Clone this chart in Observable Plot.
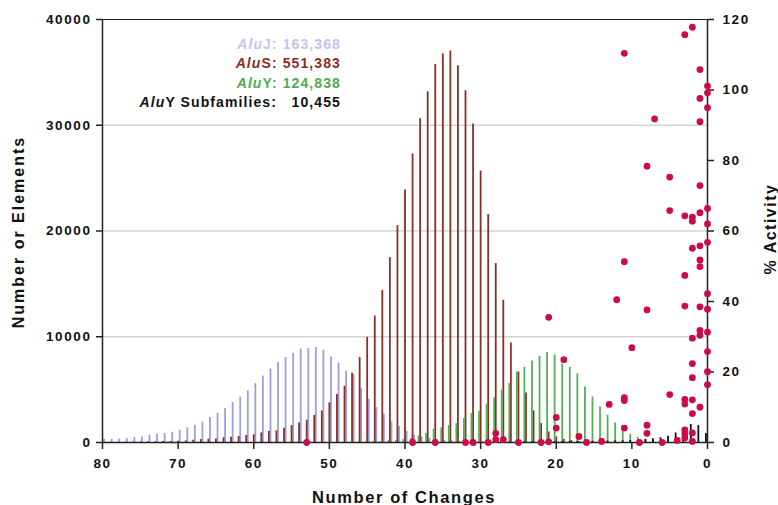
<!DOCTYPE html>
<html><head><meta charset="utf-8">
<script src="https://cdn.jsdelivr.net/npm/d3@7"></script>
<script src="https://cdn.jsdelivr.net/npm/@observablehq/plot@0.6"></script>
<style>body{margin:0;background:#fff} svg{display:block}</style>
</head><body><div id="chart"></div>
<script>
// Number of changes (categories), 0..80
const changes = [0,1,2,3,4,5,6,7,8,9,10,11,12,13,14,15,16,17,18,19,20,21,22,23,24,25,26,27,28,29,30,31,32,33,34,35,36,37,38,39,40,41,42,43,44,45,46,47,48,49,50,51,52,53,54,55,56,57,58,59,60,61,62,63,64,65,66,67,68,69,70,71,72,73,74,75,76,77,78,79,80];
// AluJ element counts per number of changes
const aluJ = [0,0,0,0,0,0,0,0,0,0,0,0,0,0,0,10,10,10,10,10,20,20,20,20,20,20,20,20,30,40,50,60,80,100,150,200,280,400,530,690,1070,1540,1950,2660,3310,4090,5100,6400,6770,7520,8090,8720,8980,8880,8850,8410,8030,7560,6930,6300,5570,4880,4280,3780,3210,2770,2360,1920,1600,1380,1160,970,850,780,690,530,470,380,330,300,280];
// AluS element counts
const aluS = [0,0,0,0,0,0,0,0,0,0,0,0,0,0,10,20,50,100,180,300,530,1000,1790,2990,4690,6670,9410,13450,16920,21550,25670,30110,33260,35630,37010,36760,35750,33170,30620,27280,23880,20510,17480,14390,11960,9950,8030,6550,5320,4540,3740,2990,2550,2110,1850,1600,1350,1100,1040,910,720,660,570,500,440,340,310,280,220,150,120,100,90,70,60,50,40,30,20,20,10];
// AluY element counts
const aluY = [10,10,20,30,40,60,100,160,310,470,780,1160,1850,2580,3360,4310,5250,6480,7090,7400,8280,8500,8160,7710,7090,6670,5570,4940,4220,3620,2960,2740,2270,1790,1600,1380,1260,850,630,380,300,200,150,100,60,40,20,10,0,0,0,0,0,0,0,0,0,0,0,0,0,0,0,0,0,0,0,0,0,0,0,0,0,0,0,0,0,0,0,0,0];
// AluY subfamilies counts
const aluYsub = [850,1600,1700,1300,900,600,450,350,280,220,180,160,150,140,130,120,110,100,100,90,90,80,70,60,50,40,30,20,20,10,10,0,0,0,0,0,0,0,0,0,0,0,0,0,0,0,0,0,0,0,0,0,0,0,0,0,0,0,0,0,0,0,0,0,0,0,0,0,0,0,0,0,0,0,0,0,0,0,0,0,0];
// % activity points: number of changes and activity
const pointChanges = [0,0,0,0,0,0,0,0,0,0,0,0, 1,1,1,1,1,1,1,1,1,1,1,1, 2,2,2,2,2,2,2,2,2,2,2, 3,3,3,3,3,3,3,3,3, 4, 5,5,5, 6, 7, 8,8,8,8, 9, 10, 11,11,11,11,11, 12, 13, 14, 16, 17, 19, 20,20, 21,21, 22, 25, 27, 28,28, 29, 31, 32, 36, 39, 53];
const pointActivity = [101.1,99.2,95.0,66.4,62.0,56.8,42.2,37.8,31.3,25.8,20.1,16.4, 105.8,97.6,91.0,72.9,65.2,55.8,51.8,49.9,38.5,31.8,30.4,10.0, 117.8,63.9,62.8,55.1,29.6,22.4,18.4,12.1,8.2,2.7,0.3, 115.7,64.3,47.4,38.7,12.2,10.9,3.6,2.5,1.3, 0.6, 75.3,65.8,13.6, 0, 91.8, 78.4,37.6,4.9,2.6, 0, 26.9, 110.4,51.3,12.7,11.9,4.1, 40.5, 10.8, 0.3, 0, 1.7, 23.5, 7.1,4.1, 35.5,0.2, 0, 0, 0.8, 2.6,0.8, 0, 0, 0, 0, 0, 0];

const xTicks = [80,70,60,50,40,30,20,10,0];
const leftTicks = [0,10000,20000,30000,40000];
const gridTicks = [10000,20000,30000];
const rightTicks = [0,20,40,60,80,100,120];
const legendLabels = ["J: 163,368","S: 551,383","Y: 124,838"];

const yMax = 40000, pMax = 120, k = yMax / pMax;
const series = (vals) => changes.map((c, i) => ({c, v: vals[i]}));
const pts = pointChanges.map((c, i) => ({c, a: pointActivity[i]}));

const colJ = "#9d9de4", colS = "#8a2f24", colY = "#52b152", colSub = "#111", colDot = "#cf0a4b";

const plot = Plot.plot({
  width: 778, height: 505,
  marginLeft: 102, marginRight: 71, marginTop: 19, marginBottom: 63,
  x: {domain: [80, 0]},
  y: {domain: [0, yMax]},
  style: {fontFamily: "'Liberation Sans', Arial, sans-serif", fontSize: "13.5px", fontWeight: "bold", background: "#fff", color: "#111", letterSpacing: "1.6px"},
  marks: [
    Plot.ruleY(gridTicks, {stroke: "#d4d4d4", strokeWidth: 1.5}),
    Plot.ruleX(series(aluJ), {x: "c", y1: () => 0, y2: "v", stroke: colJ, strokeWidth: 1.8, dx: 1.6}),
    Plot.ruleX(series(aluS), {x: "c", y1: () => 0, y2: "v", stroke: colS, strokeWidth: 1.8, dx: 0}),
    Plot.ruleX(series(aluY), {x: "c", y1: () => 0, y2: "v", stroke: colY, strokeWidth: 1.8, dx: -1.6}),
    Plot.ruleX(series(aluYsub), {x: "c", y1: () => 0, y2: "v", stroke: colSub, strokeWidth: 1.8, dx: -1.6}),
    Plot.ruleY([yMax], {stroke: "#222", strokeWidth: 1.2}),
    Plot.ruleX([80], {stroke: "#222", strokeWidth: 1.5}),
    Plot.ruleX([0], {stroke: "#222", strokeWidth: 1.5}),
    Plot.ruleY([0], {stroke: "#222", strokeWidth: 1.5}),
    Plot.axisY({ticks: leftTicks, tickFormat: d => String(d), label: null, tickSize: 6, tickPadding: 5, fontSize: 13.5, stroke: "#222", strokeWidth: 1.5}),
    Plot.axisY({anchor: "right", ticks: rightTicks.map(v => v * k), tickFormat: d => String(Math.round(d / k)), label: null, tickSize: 6, tickPadding: 9, fontSize: 13.5, stroke: "#222", strokeWidth: 1.5}),
    Plot.axisX({ticks: xTicks, tickFormat: d => String(d), label: null, tickSize: 7, tickPadding: 9, fontSize: 13.5, stroke: "#222", strokeWidth: 1.5}),
    Plot.dot(pts, {x: "c", y: d => d.a * k, r: 3.4, fill: colDot, stroke: "none"})
  ]
});

const svg = d3.select(plot);
const tf = "'Liberation Sans', Arial, sans-serif";
// axis titles
svg.append("text").attr("transform", "translate(24,232) rotate(-90)").attr("text-anchor", "middle")
  .attr("font-family", tf).attr("font-size", 16).attr("font-weight", "bold").attr("letter-spacing", "2px").attr("fill", "#111")
  .text("Number or Elements");
svg.append("text").attr("transform", "translate(776,229) rotate(-90)").attr("text-anchor", "middle")
  .attr("font-family", tf).attr("font-size", 16).attr("font-weight", "bold").attr("letter-spacing", "1.5px").attr("fill", "#111")
  .text("% Activity");
svg.append("text").attr("x", 404).attr("y", 503).attr("text-anchor", "middle")
  .attr("font-family", tf).attr("font-size", 16.5).attr("font-weight", "bold").attr("letter-spacing", "1.6px").attr("fill", "#111")
  .text("Number of Changes");

// legend
const legCols = ["#c4c4ec", "#8a2f24", "#4fae4f"];
const legY = [48.5, 67.8, 87.6];
legendLabels.forEach((t, i) => {
  const tx = svg.append("text").attr("x", 341).attr("y", legY[i]).attr("text-anchor", "end")
    .attr("font-family", tf).attr("font-size", 14).attr("font-weight", "bold").attr("letter-spacing", "1.1px").attr("fill", legCols[i]);
  tx.append("tspan").attr("font-style", "italic").text("Alu");
  tx.append("tspan").text(t);
});
const t4 = svg.append("text").attr("x", 277).attr("y", 106.7).attr("text-anchor", "end")
  .attr("font-family", tf).attr("font-size", 14).attr("font-weight", "bold").attr("letter-spacing", "1.1px").attr("fill", "#111");
t4.append("tspan").attr("font-style", "italic").text("Alu");
t4.append("tspan").text("Y Subfamilies:");
svg.append("text").attr("x", 341).attr("y", 106.7).attr("text-anchor", "end")
  .attr("font-family", tf).attr("font-size", 14).attr("font-weight", "bold").attr("letter-spacing", "1.1px").attr("fill", "#111")
  .text("10,455");

document.getElementById("chart").appendChild(plot);
</script>
</body></html>
